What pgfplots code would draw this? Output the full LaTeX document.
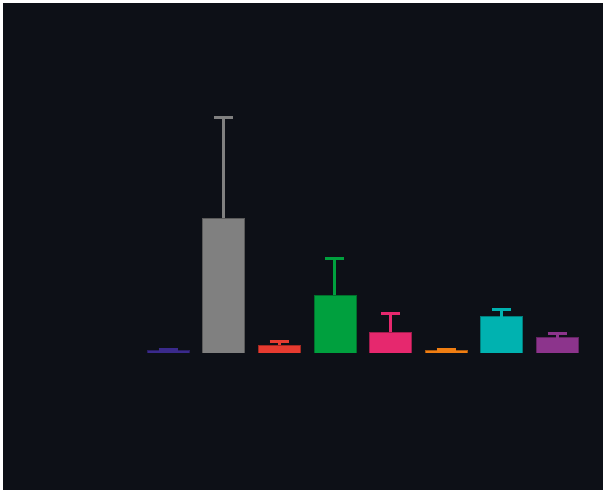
\documentclass[border=0pt]{standalone}
\usepackage{pgfplots}
\pgfplotsset{compat=1.18}
\definecolor{bg}{HTML}{0D1017}
\definecolor{c1}{HTML}{3A2A8C}
\definecolor{c2}{HTML}{808080}
\definecolor{c3}{HTML}{E63B30}
\definecolor{c4}{HTML}{00A03E}
\definecolor{c5}{HTML}{E6286E}
\definecolor{c6}{HTML}{F07E12}
\definecolor{c7}{HTML}{00B2B0}
\definecolor{c8}{HTML}{8C348C}
\begin{document}
\begin{tikzpicture}[x=1pt,y=1pt]
\useasboundingbox (0,0) rectangle (606,493);
\fill[white] (0,0) rectangle (606,493);
\fill[bg] (3,3) rectangle (603,490);
\begin{axis}[
  at={(140.2pt,140pt)}, anchor=south west,
  scale only axis, width=444.8pt, height=240pt,
  xmin=-0.5, xmax=7.5, ymin=0, ymax=240,
  axis lines=none, ticks=none,
  ybar, bar width=42pt, bar shift=0pt,
  error bars/y dir=plus, error bars/y explicit,
  error bars/error mark options={rotate=90, mark size=9.5pt, line width=3pt},
]
\addplot[fill=c1, draw=c1!70!black, line width=0.6pt, error bars/error bar style={c1, line width=3pt}] coordinates {(0,2.5) +- (0,1.2)};
\addplot[fill=c2, draw=c2!70!black, line width=0.6pt, error bars/error bar style={c2, line width=3pt}] coordinates {(1,134.5) +- (0,100.5)};
\addplot[fill=c3, draw=c3!70!black, line width=0.6pt, error bars/error bar style={c3, line width=3pt}] coordinates {(2,8) +- (0,3)};
\addplot[fill=c4, draw=c4!70!black, line width=0.6pt, error bars/error bar style={c4, line width=3pt}] coordinates {(3,57.5) +- (0,37)};
\addplot[fill=c5, draw=c5!70!black, line width=0.6pt, error bars/error bar style={c5, line width=3pt}] coordinates {(4,20.5) +- (0,18.5)};
\addplot[fill=c6, draw=c6!70!black, line width=0.6pt, error bars/error bar style={c6, line width=3pt}] coordinates {(5,2.2) +- (0,1.1)};
\addplot[fill=c7, draw=c7!70!black, line width=0.6pt, error bars/error bar style={c7, line width=3pt}] coordinates {(6,36.3) +- (0,7.2)};
\addplot[fill=c8, draw=c8!70!black, line width=0.6pt, error bars/error bar style={c8, line width=3pt}] coordinates {(7,15.3) +- (0,4.2)};
\end{axis}
\end{tikzpicture}
\end{document}
